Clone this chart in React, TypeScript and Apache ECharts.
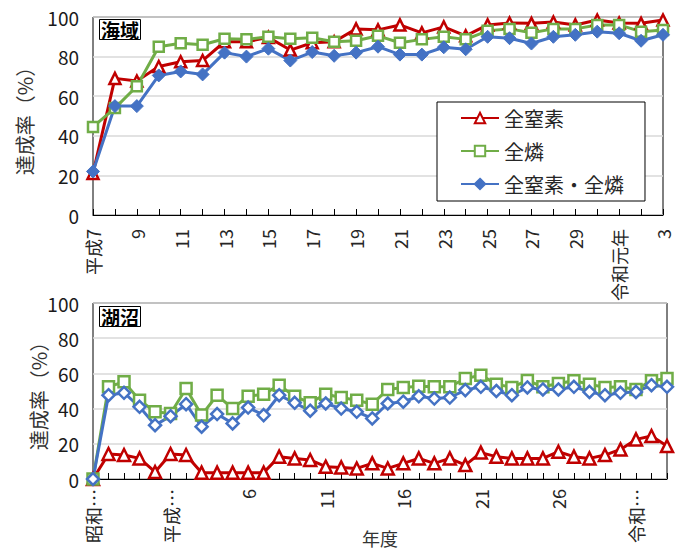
import React, { useEffect, useRef } from "react";
import * as echarts from "echarts";

// 海域：平成7年度〜令和3年度
const seaYears = [
  "平成7", "8", "9", "10", "11", "12", "13", "14", "15", "16", "17", "18",
  "19", "20", "21", "22", "23", "24", "25", "26", "27", "28", "29", "30",
  "令和元年", "2", "3",
];
const seaNitrogen = [
  21, 69, 67.7, 75, 77.4, 78, 87.5, 87.5, 89.7, 83.3, 87, 87.5, 94, 93.5,
  96, 92, 95, 90.5, 96, 97, 96.8, 97.5, 96, 98.5, 97, 96.8, 98.5,
];
const seaPhosphorus = [
  44.5, 54, 65, 85, 86.7, 86, 89, 88.7, 90, 89, 89.5, 87.5, 88, 90.5, 87,
  88.7, 90, 88.7, 93, 94, 92, 94, 94, 96, 96, 92.6, 93.4,
];
const seaBoth = [
  22, 55, 55, 70.5, 72.5, 71, 82, 80, 84, 78, 82.3, 80.4, 82, 85, 81, 81,
  84.7, 83.7, 90, 89.3, 86.6, 90, 91, 92.6, 91.8, 88, 91,
];

// 湖沼：昭和59年度〜令和3年度
const lakeYears = [
  "昭和59", "60", "61", "62", "63", "平成元年", "2", "3", "4", "5", "6", "7",
  "8", "9", "10", "11", "12", "13", "14", "15", "16", "17", "18", "19", "20",
  "21", "22", "23", "24", "25", "26", "27", "28", "29", "30", "令和元年", "2", "3",
];
const lakeNitrogen = [
  0, 14.2, 13.6, 11.7, 4, 14.2, 13.6, 3.6, 3.6, 3.6, 3.6, 3.6, 12.7, 11.7,
  10.8, 7, 6.6, 6, 8.9, 6, 8.9, 11.7, 8.9, 11.7, 7.9, 15, 12.7, 11.7, 11.7,
  11.7, 15.5, 12.7, 11.7, 13.6, 16.8, 22.5, 24.4, 18.7,
];
const lakePhosphorus = [
  0, 52.4, 55.2, 44.8, 38.2, 37.2, 51.4, 36.3, 47.6, 40, 47, 48.2, 53.3, 47,
  43.3, 48.2, 46.3, 44.8, 42.5, 50.9, 52, 52.7, 52.4, 52.4, 57.1, 59, 53.9,
  52, 56, 52.4, 54.3, 55.8, 53.9, 52, 52.4, 50.9, 55.8, 57.1,
];
const lakeBoth = [
  0, 47.6, 49, 41, 30.6, 35.7, 42.5, 29.7, 36.9, 31.6, 40.6, 36.3, 47.6,
  43.3, 38.8, 42.9, 40, 38.2, 34.4, 42.9, 43.9, 47, 45.7, 46.3, 50.5, 52.4,
  50, 47.6, 52, 50.9, 50.9, 52.4, 49.5, 47.6, 49, 49.5, 53.3, 52.4,
];

const seriesNames = ["全窒素", "全燐", "全窒素・全燐"];
const RED = "#C00000";
const GREEN = "#70AD47";
const BLUE = "#4472C4";
const FONT = "'Noto Sans CJK JP', 'Noto Sans', sans-serif";

// 長い年度ラベルは「昭和…」のように省略する
const shorten = (v: string) => (v.length > 2 && /[^\d]/.test(v) ? v.slice(0, 2) + "…" : v);

export default function App() {
  const ref = useRef<HTMLDivElement>(null);

  useEffect(() => {
    if (!ref.current) return;
    const chart = echarts.init(ref.current, undefined, { renderer: "svg" });

    const xAxisBase = {
      type: "category" as const,
      boundaryGap: false,
      axisLine: { lineStyle: { color: "#000", width: 1 } },
      axisTick: { inside: true, length: 6, interval: 0, lineStyle: { color: "#000" } },
      splitLine: { show: false },
    };
    const yAxisBase = {
      type: "value" as const,
      min: 0,
      max: 100,
      interval: 20,
      axisLine: { show: false },
      axisTick: { show: false },
      axisLabel: { fontSize: 19, color: "#1a1a1a", margin: 14 },
      splitLine: { lineStyle: { color: "#D9D9D9", width: 1.5 } },
      name: "達成率（%）",
      nameLocation: "middle" as const,
      nameRotate: 90,
      nameMoveOverlap: false,
      nameTextStyle: { fontSize: 20, color: "#333" },
    };

    const line = (
      name: string,
      data: number[],
      idx: number,
      symbol: string,
      size: number,
      color: string,
      filled: boolean
    ) => ({
      name,
      type: "line" as const,
      xAxisIndex: idx,
      yAxisIndex: idx,
      data,
      symbol,
      symbolSize: size,
      showSymbol: true,
      showAllSymbol: true,
      clip: false,
      color,
      lineStyle: { color, width: 3 },
      itemStyle: filled
        ? { color, borderColor: color, borderWidth: 1 }
        : { color: "#fff", borderColor: color, borderWidth: 2.5 },
    });

    chart.setOption({
      animation: false,
      textStyle: { fontFamily: FONT },
      title: [
        {
          text: "海域",
          left: 99,
          top: 19,
          padding: [1, 2, 1, 2],
          borderColor: "#000",
          borderWidth: 1,
          backgroundColor: "#fff",
          textStyle: { fontSize: 19, fontWeight: "bold", color: "#000", fontFamily: FONT },
        },
        {
          text: "湖沼",
          left: 99,
          top: 306,
          padding: [1, 2, 1, 2],
          borderColor: "#000",
          borderWidth: 1,
          backgroundColor: "#fff",
          textStyle: { fontSize: 19, fontWeight: "bold", color: "#000", fontFamily: FONT },
        },
      ],
      legend: {
        data: seriesNames,
        orient: "vertical",
        left: 437,
        top: 102,
        backgroundColor: "#fff",
        borderColor: "#000",
        borderWidth: 1,
        padding: [6, 21, 7, 23],
        itemWidth: 38,
        itemHeight: 13,
        itemGap: 13,
        textStyle: { fontSize: 20, lineHeight: 20, color: "#262626", fontFamily: FONT },
      },
      grid: [
        { left: 93, top: 17, width: 570, height: 198, show: true, borderColor: "#000", borderWidth: 1 },
        { left: 93, top: 303, width: 574, height: 176, show: true, borderColor: "#000", borderWidth: 1 },
      ],
      xAxis: [
        {
          ...xAxisBase,
          gridIndex: 0,
          data: seaYears,
          axisLabel: { interval: 1, rotate: 90, margin: 14, fontSize: 18, color: "#262626" },
        },
        {
          ...xAxisBase,
          gridIndex: 1,
          data: lakeYears,
          axisLabel: {
            interval: 4,
            rotate: 90,
            margin: 10,
            fontSize: 18,
            color: "#262626",
            formatter: shorten,
          },
          name: "年度",
          nameLocation: "middle",
          nameGap: 50,
          nameMoveOverlap: false,
          nameTextStyle: { fontSize: 18, color: "#333" },
        },
      ],
      yAxis: [
        { ...yAxisBase, gridIndex: 0, nameGap: 59 },
        { ...yAxisBase, gridIndex: 1, nameGap: 45 },
      ],
      series: [
        line(seriesNames[0], seaNitrogen, 0, "triangle", 11, RED, false),
        line(seriesNames[1], seaPhosphorus, 0, "rect", 10, GREEN, false),
        line(seriesNames[2], seaBoth, 0, "diamond", 13, BLUE, true),
        line(seriesNames[0], lakeNitrogen, 1, "triangle", 12, RED, false),
        line(seriesNames[1], lakePhosphorus, 1, "rect", 11, GREEN, false),
        line(seriesNames[2], lakeBoth, 1, "diamond", 12, BLUE, false),
      ],
    });

    return () => chart.dispose();
  }, []);

  return (
    <div
      ref={ref}
      style={{ position: "fixed", left: 0, top: 0, width: 677, height: 551, background: "#fff" }}
    />
  );
}
